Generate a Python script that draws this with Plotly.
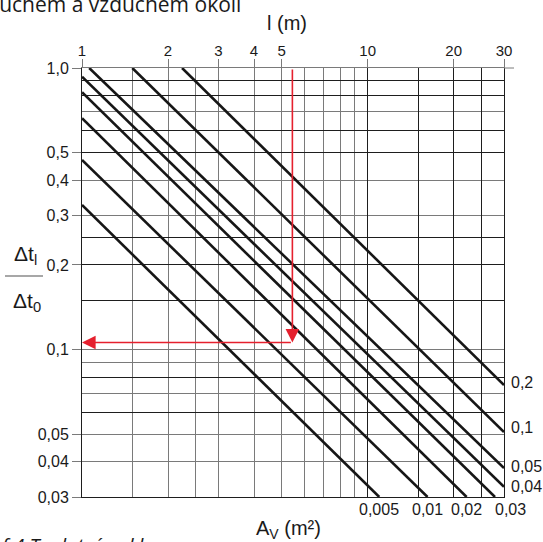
import numpy as np
import plotly.graph_objects as go

# ---------------- data ----------------
# curve labels (A_V in m2) and the end points of each straight line (l in m, ratio dt_l/dt_0)
av_labels = ["0,2", "0,1", "0,05", "0,04", "0,03", "0,02", "0,01", "0,005"]
l_start = [2.24, 1.50, 1.06, 1.0, 1.0, 1.0, 1.0, 1.0]
ratio_start = [1.0, 1.0, 1.0, 0.931, 0.82, 0.663, 0.4715, 0.3265]
l_end = [30.0, 30.0, 30.0, 30.0, 27.9, 22.2, 16.2, 10.98]
ratio_end = [0.0749, 0.051, 0.038, 0.0326, 0.03, 0.03, 0.03, 0.03]

x_tick_vals = [1, 2, 3, 4, 5, 10, 20, 30]
x_tick_text = ["1", "2", "3", "4", "5", "10", "20", "30"]
y_tick_vals = [1.0, 0.5, 0.4, 0.3, 0.2, 0.1, 0.05, 0.04, 0.03]
y_tick_text = ["1,0", "0,5", "0,4", "0,3", "0,2", "0,1", "0,05", "0,04", "0,03"]

x_grid_dark = [1, 10, 15, 20, 25, 30]
x_grid_light = [1.5, 2, 2.5, 3, 4, 5, 6, 7, 8, 9]
y_grid_dark = [0.9, 0.8, 0.6, 0.5, 0.25, 0.2, 0.15, 0.08, 0.06, 0.03]
y_grid_light = [1.0, 0.7, 0.4, 0.3, 0.1, 0.09, 0.07, 0.05, 0.04]

example_l = 5.45
example_ratio = 0.106

x_title = "l (m)"
bottom_title = "A<sub>V</sub> (m²)"
top_caption = "vzduchem a vzduchem okolí"
bottom_caption = "Graf 4 Teplotní pokles"

# ---------------- style ----------------
DARK = "#1e1e1e"
LIGHT = "#7a7a7a"
RED = "#e5202e"
FONT = "Liberation Sans, Arial, sans-serif"
tick_font = dict(family=FONT, size=16, color="#1a1a1a")
top_tick_font = dict(family=FONT, size=15, color="#1a1a1a")
title_font = dict(family=FONT, size=20, color="#1a1a1a")
frac_font = dict(family=FONT, size=21, color="#1a1a1a")
W, H = 543, 542
ML, MR, MT, MB = 82, 39, 68, 45
PW, PH = W - ML - MR, H - MT - MB


def px_x(p):
    return (p - ML) / PW


def px_y(p):
    return (H - MB - p) / PH


xr = [0, np.log10(30)]
yr = [np.log10(0.03), 0]

fig = go.Figure()
for i in range(len(av_labels)):
    fig.add_trace(go.Scatter(
        x=[l_start[i], l_end[i]], y=[ratio_start[i], ratio_end[i]],
        mode="lines", line=dict(color="#161616", width=2.6),
        hoverinfo="skip", showlegend=False))

# invisible helpers so the overlaying label axes exist
fig.add_trace(go.Scatter(x=[1, 30], y=[1, 1], xaxis="x2", yaxis="y", mode="markers",
                         marker=dict(opacity=0), hoverinfo="skip", showlegend=False))
fig.add_trace(go.Scatter(x=[1, 1], y=[0.03, 1], xaxis="x", yaxis="y2", mode="markers",
                         marker=dict(opacity=0), hoverinfo="skip", showlegend=False))

fig.update_layout(
    width=W, height=H,
    margin=dict(l=ML, r=MR, t=MT, b=MB),
    paper_bgcolor="white", plot_bgcolor="white", showlegend=False,
    xaxis=dict(type="log", range=xr, side="bottom", showticklabels=False, ticks="",
               tickmode="array", tickvals=x_grid_dark, showgrid=True, gridcolor=DARK,
               gridwidth=1, showline=True, linecolor=DARK, linewidth=1, zeroline=False,
               minor=dict(tickmode="array", tickvals=x_grid_light, showgrid=True,
                          gridcolor=LIGHT, gridwidth=1, ticks=""),
               fixedrange=True),
    xaxis2=dict(type="log", range=xr, overlaying="x", anchor="y", side="top",
                tickmode="array", tickvals=x_tick_vals, ticktext=x_tick_text,
                ticks="outside", ticklen=8, tickcolor=LIGHT, tickwidth=1,
                ticklabelstandoff=-3,
                showgrid=False, showline=True, linecolor=LIGHT, linewidth=1,
                tickfont=top_tick_font, zeroline=False, fixedrange=True),
    yaxis=dict(type="log", range=yr, side="left", showticklabels=False, ticks="",
               tickmode="array", tickvals=y_grid_dark, showgrid=True, gridcolor=DARK,
               gridwidth=1, showline=True, mirror=True, linecolor=DARK, linewidth=1,
               zeroline=False,
               minor=dict(tickmode="array", tickvals=y_grid_light, showgrid=True,
                          gridcolor=LIGHT, gridwidth=1, ticks=""),
               fixedrange=True),
    yaxis2=dict(type="log", range=yr, overlaying="y", anchor="x", side="left",
                tickmode="array", tickvals=y_tick_vals, ticktext=y_tick_text,
                ticks="outside", ticklen=9, tickcolor=LIGHT, tickwidth=1,
                showgrid=False, showline=False, tickfont=tick_font, zeroline=False,
                fixedrange=True),
)

# curve labels
right_shift = {"0,2": 3, "0,1": 5, "0,05": 2, "0,04": 0}
for i, lab in enumerate(av_labels):
    if l_end[i] >= 30:
        fig.add_annotation(x=np.log10(l_end[i]), y=np.log10(ratio_end[i]), xref="x", yref="y",
                           text=lab, showarrow=False, xanchor="left", yanchor="middle",
                           xshift=5, yshift=right_shift.get(lab, 0), font=tick_font)
    else:
        anchor = "left" if lab == "0,03" else "center"
        fig.add_annotation(x=np.log10(l_end[i]), y=np.log10(ratio_end[i]), xref="x", yref="y",
                           text=lab, showarrow=False, xanchor=anchor, yanchor="middle",
                           xshift=-2 if anchor == "left" else 0, yshift=-12, font=tick_font)

# red example path
fig.add_annotation(x=np.log10(example_l), y=np.log10(example_ratio),
                   ax=np.log10(example_l), ay=0, xref="x", yref="y", axref="x", ayref="y",
                   text="", showarrow=True, arrowhead=2, arrowsize=1.7, arrowwidth=1.6,
                   arrowcolor=RED, standoff=0)
fig.add_annotation(x=0, y=np.log10(example_ratio),
                   ax=np.log10(example_l), ay=np.log10(example_ratio),
                   xref="x", yref="y", axref="x", ayref="y",
                   text="", showarrow=True, arrowhead=2, arrowsize=1.7, arrowwidth=1.6,
                   arrowcolor=RED, standoff=0)

# axis titles and y label fraction
fig.add_annotation(x=px_x(287), y=px_y(23), xref="paper", yref="paper", text=x_title,
                   showarrow=False, xanchor="center", yanchor="middle", font=title_font)
fig.add_annotation(x=px_x(288), y=px_y(529), xref="paper", yref="paper", text=bottom_title,
                   showarrow=False, xanchor="center", yanchor="middle", font=title_font)
fig.add_annotation(x=px_x(26), y=px_y(255), xref="paper", yref="paper", text="Δt<sub>l</sub>",
                   showarrow=False, xanchor="center", yanchor="middle", font=frac_font)
fig.add_annotation(x=px_x(27), y=px_y(302), xref="paper", yref="paper", text="Δt<sub>0</sub>",
                   showarrow=False, xanchor="center", yanchor="middle", font=frac_font)
fig.add_shape(type="line", xref="paper", yref="paper", x0=px_x(5), x1=px_x(43),
              y0=px_y(276), y1=px_y(276), line=dict(color="#8a8a8a", width=1.5))
# top border extension to the right
fig.add_shape(type="line", xref="paper", yref="paper", x0=1, x1=px_x(514),
              y0=1, y1=1, line=dict(color=LIGHT, width=1))

# cropped captions
fig.add_annotation(x=px_x(244), y=px_y(4), xref="paper", yref="paper", text=top_caption,
                   showarrow=False, xanchor="right", yanchor="middle",
                   font=dict(family="Open Sans, sans-serif", size=21, color="#1a1a1a"))
fig.add_annotation(x=px_x(-33), y=px_y(545), xref="paper", yref="paper",
                   text="<i>" + bottom_caption + "</i>",
                   showarrow=False, xanchor="left", yanchor="middle",
                   font=dict(family="Open Sans, sans-serif", size=20, color="#1a1a1a"))

fig.write_html("out.html")
